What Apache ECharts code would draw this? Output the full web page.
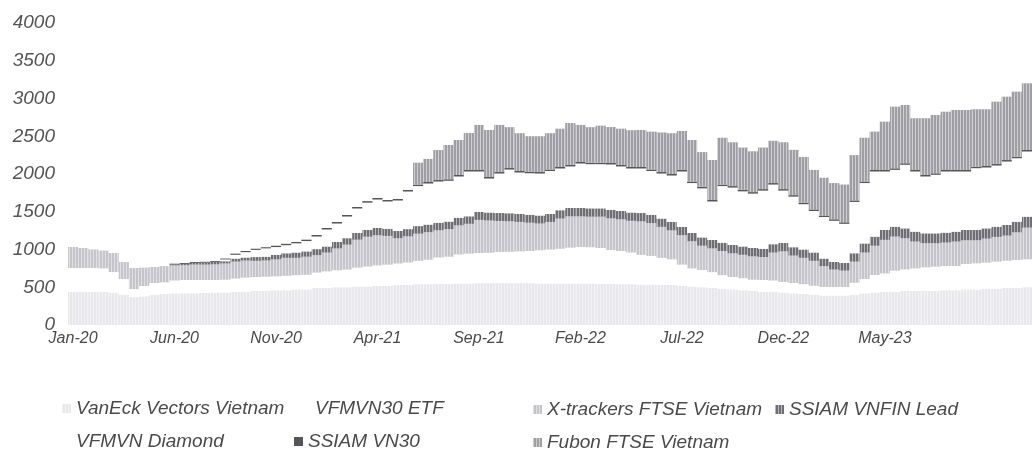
<!DOCTYPE html>
<html>
<head>
<meta charset="utf-8">
<script src="https://cdn.jsdelivr.net/npm/echarts@6/dist/echarts.min.js"></script>
<style>
  html, body { margin: 0; padding: 0; background: #ffffff; }
  #chart { width: 1032px; height: 463px; }
</style>
</head>
<body>
<div id="chart"></div>
<script>
// ---- x-axis tick labels shown (every 5 months) ----
const tickLabels = ['Jan-20', 'Jun-20', 'Nov-20', 'Apr-21', 'Sep-21', 'Feb-22', 'Jul-22', 'Dec-22', 'May-23'];
const monthNames = ['Jan', 'Feb', 'Mar', 'Apr', 'May', 'Jun', 'Jul', 'Aug', 'Sep', 'Oct', 'Nov', 'Dec'];

// ---- series values, half-monthly, Jan-20 .. Dec-23 (95 points) ----
const vanEck = [
  440, 440, 440, 440, 430, 400, 370, 380, 400, 410,
  420, 420, 420, 425, 430, 430, 440, 440, 450, 450,
  460, 460, 470, 470, 490, 490, 500, 500, 510, 510,
  520, 520, 530, 530, 540, 540, 545, 545, 550, 550,
  555, 555, 555, 555, 555, 555, 550, 550, 550, 550,
  550, 550, 545, 545, 540, 540, 535, 535, 530, 530,
  520, 510, 500, 490, 480, 470, 460, 450, 440, 440,
  430, 420, 410, 400, 390, 390, 390, 400, 420, 430,
  440, 440, 450, 450, 450, 450, 460, 460, 470, 470,
  480, 480, 490, 490, 500
];
const vfmvn30Etf = [
  315, 315, 315, 310, 272, 209, 107, 137, 156, 155,
  170, 176, 176, 171, 166, 170, 175, 188, 186, 190,
  185, 192, 190, 195, 205, 220, 225, 235, 250, 265,
  270, 280, 285, 298, 310, 325, 350, 360, 385, 395,
  399, 403, 412, 415, 420, 425, 440, 450, 460, 475,
  483, 480, 475, 448, 440, 420, 395, 380, 360, 340,
  280, 240, 228, 210, 180, 166, 160, 150, 156, 150,
  140, 136, 130, 120, 113, 113, 113, 160, 190, 232,
  244, 280, 287, 300, 314, 323, 321, 321, 338, 347,
  346, 359, 362, 371, 370
];
const xtrackers = [
  278, 265, 245, 235, 252, 225, 278, 243, 212, 215,
  200, 197, 205, 204, 208, 215, 225, 226, 214, 215,
  225, 238, 230, 240, 230, 250, 290, 330, 370, 395,
  400, 380, 335, 347, 360, 365, 360, 365, 385, 395,
  438, 427, 411, 405, 390, 375, 355, 365, 400, 415,
  407, 405, 415, 420, 420, 420, 443, 435, 410, 384,
  390, 360, 322, 316, 320, 314, 310, 310, 304, 370,
  406, 364, 350, 330, 277, 232, 218, 280, 350, 388,
  444, 452, 413, 356, 320, 311, 312, 325, 315, 306,
  319, 328, 333, 367, 420
];
const vnfinLead = [
  null, null, null, null, null, null, null, null, null, null,
  10, 15, 20, 25, 30, 30, 40, 40, 50, 50,
  60, 60, 70, 70, 80, 80, 85, 85, 90, 90,
  95, 95, 95, 95, 100, 100, 100, 100, 100, 100,
  105, 105, 105, 105, 105, 105, 105, 105, 110, 110,
  110, 110, 110, 110, 110, 110, 110, 110, 110, 110,
  110, 110, 110, 110, 110, 110, 110, 110, 110, 110,
  110, 110, 110, 110, 100, 100, 100, 110, 120, 120,
  130, 130, 130, 130, 130, 130, 130, 130, 135, 135,
  135, 135, 140, 140, 145
];
const vfmvnDiamond = [
  null, null, null, null, null, null, null, null, null, null,
  null, null, null, null, null, 23, 50, 71, 95, 110,
  102, 107, 122, 137, 167, 225, 244, 287, 323, 360,
  377, 361, 404, 498, 530, 544, 545, 540, 547, 593,
  536, 450, 523, 579, 550, 550, 556, 570, 553, 550,
  589, 585, 585, 603, 590, 583, 590, 580, 596, 616,
  733, 660, 650, 510, 750, 760, 730, 720, 770, 790,
  694, 670, 600, 550, 550, 545, 519, 680, 800, 863,
  775, 753, 842, 797, 753, 775, 810, 797, 775, 819,
  806, 810, 840, 841, 863
];
const ssiamVn30 = [
  null, null, null, null, null, null, null, null, null, null,
  12, 12, 12, 12, 12, 12, 15, 15, 15, 15,
  18, 18, 18, 18, 20, 20, 20, 20, 20, 20,
  20, 20, 20, 20, 20, 20, 20, 20, 20, 20,
  20, 20, 20, 20, 20, 20, 20, 20, 20, 20,
  20, 20, 20, 20, 20, 20, 20, 20, 20, 20,
  20, 20, 20, 20, 20, 20, 20, 20, 20, 20,
  20, 20, 20, 20, 20, 20, 20, 20, 20, 20,
  20, 20, 20, 20, 20, 20, 20, 20, 20, 20,
  20, 20, 20, 20, 20
];
const fubon = [
  null, null, null, null, null, null, null, null, null, null,
  null, null, null, null, null, null, null, null, null, null,
  null, null, null, null, null, null, null, null, null, null,
  null, null, null, null, 290, 306, 398, 454, 463, 490,
  596, 623, 624, 541, 500, 470, 474, 480, 507, 555,
  491, 470, 490, 476, 480, 487, 490, 500, 524, 540,
  517, 550, 460, 529, 620, 580, 560, 540, 550, 560,
  620, 600, 605, 523, 500, 480, 500, 600, 580, 508,
  640, 817, 772, 685, 751, 772, 772, 795, 795, 760,
  751, 826, 839, 861, 883
];

// half-month categories
const categories = [];
for (let m = 0; m < 48; m++) {
  const lab = monthNames[m % 12] + '-' + String(2020 + Math.floor(m / 12)).slice(2);
  categories.push(lab);
  if (categories.length < vanEck.length) categories.push(lab + ' (16)');
}

const FONT = '"Liberation Sans", Arial, sans-serif';
const hatch = {
  symbol: 'rect', symbolSize: 1, color: 'rgba(255,255,255,0.5)',
  dashArrayX: [1, 2], dashArrayY: [10, 0], rotation: 0
};

function bar(name, data, color, useHatch) {
  return {
    name: name, type: 'bar', stack: 'total', data: data,
    barCategoryGap: '0%', barGap: '0%',
    itemStyle: Object.assign({ color: color }, useHatch ? { decal: hatch } : {}),
    emphasis: { disabled: true }
  };
}

const series = [
  bar('VanEck Vectors Vietnam', vanEck, '#e7e7ec', true),
  bar('VFMVN30 ETF', vfmvn30Etf, '#ffffff', false),
  bar('X-trackers FTSE Vietnam', xtrackers, '#c4c4ca', true),
  bar('SSIAM VNFIN Lead', vnfinLead, '#6e6e74', true),
  bar('VFMVN Diamond', vfmvnDiamond, '#ffffff', false),
  bar('SSIAM VN30', ssiamVn30, '#55555a', false),
  bar('Fubon FTSE Vietnam', fubon, '#9e9ea4', true)
];

const legendText = { color: '#4a4a4a', fontStyle: 'italic', fontSize: 19, fontFamily: FONT };
function legend(name, left, top) {
  return {
    data: [name], left: left, top: top, padding: 0,
    itemWidth: 9, itemHeight: 9, itemGap: 0, icon: 'rect',
    selectedMode: false, textStyle: legendText
  };
}

const chart = echarts.init(document.getElementById('chart'), null, { renderer: 'canvas' });
chart.setOption({
  animation: false,
  backgroundColor: '#ffffff',
  grid: { left: 68, right: 0, top: 23, bottom: 138, containLabel: false },
  legend: [
    legend('VanEck Vectors Vietnam', 62, 399),
    legend('VFMVN30 ETF', 301, 399),
    legend('X-trackers FTSE Vietnam', 533, 400),
    legend('SSIAM VNFIN Lead', 775, 400),
    legend('VFMVN Diamond', 62, 432),
    legend('SSIAM VN30', 294, 432),
    legend('Fubon FTSE Vietnam', 533, 433)
  ],
  xAxis: {
    type: 'category', data: categories,
    axisLine: { show: false }, axisTick: { show: false },
    axisLabel: {
      interval: function (idx, val) { return tickLabels.indexOf(val) >= 0; },
      margin: 6, color: '#4a4a4a', fontStyle: 'italic', fontSize: 16, fontFamily: FONT
    },
    splitLine: { show: false }
  },
  yAxis: {
    type: 'value', min: 0, max: 4000, interval: 500,
    axisLine: { show: false }, axisTick: { show: false }, splitLine: { show: false },
    axisLabel: {
      margin: 13, color: '#555555', fontStyle: 'italic', fontSize: 19, fontFamily: FONT,
      formatter: function (v) { return String(v); }
    }
  },
  series: series
});
</script>
</body>
</html>
